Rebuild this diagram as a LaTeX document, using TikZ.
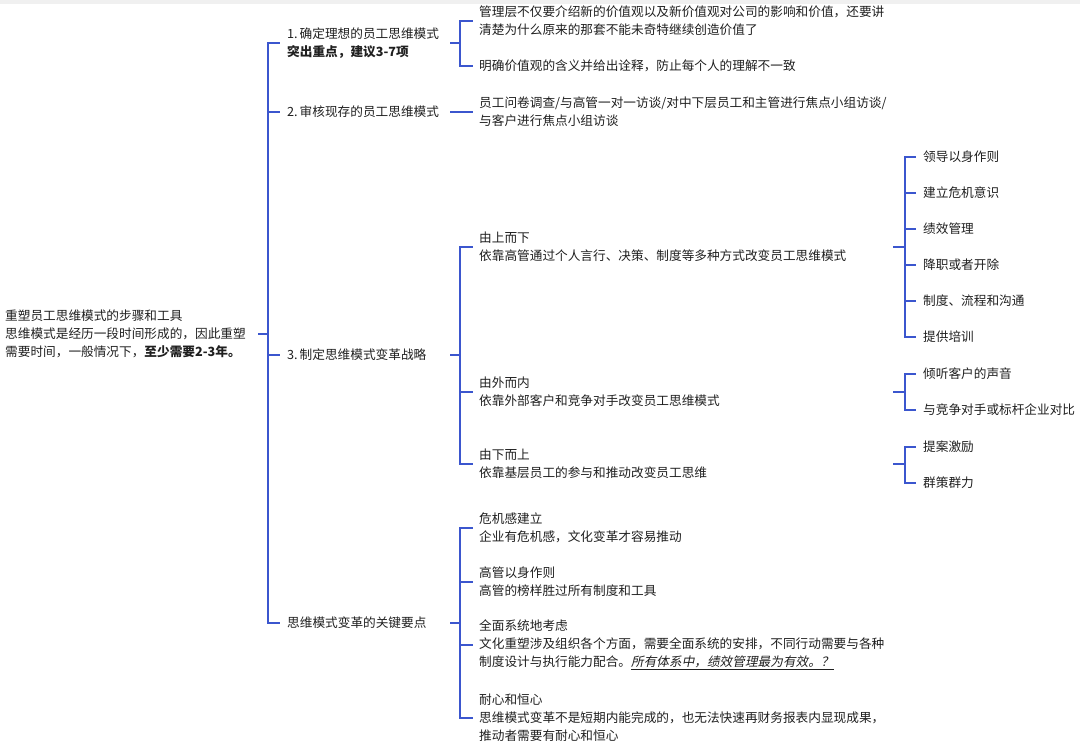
\documentclass[tikz,border=0pt]{standalone}
\usepackage{fontspec}
\setmainfont{Noto Sans CJK SC}[AutoFakeSlant=0.2]
\usepackage{tikz}
\usetikzlibrary{positioning}
\definecolor{linkblue}{RGB}{59,86,206}
\tikzset{
  link/.style={draw=linkblue, line width=1.8pt},
  topic/.style={anchor=west, inner xsep=7pt, inner ysep=0pt, align=left, text=black!88, font=\fontsize{12.66}{18}\selectfont\frenchspacing},
  branch/.style={topic, text width=156pt},
  leaf/.style={topic, inner xsep=6pt}
}

\begin{document}
\begin{tikzpicture}[x=1pt, y=-1pt]
    \useasboundingbox (0,0) rectangle (1080,747);
    \fill[black!6] (0,0) rectangle (1080,4);

    % 1. Tema central
    \node[topic, inner xsep=0pt, text width=253pt] (root) at (5,334) {重塑员工思维模式的步骤和工具\\思维模式是经历一段时间形成的，因此重塑\\需要时间，一般情况下，\textbf{至少需要2-3年。}};
    \coordinate (s0) at (268,334);

    % 2. Ramas principales
    \node[branch] (b1) at (280,43) {\mbox{1.\hspace{2pt}确定理想的员工思维模式}\\\textbf{突出重点，建议3-7项}};
    \node[branch] (b2) at (280,112) {\mbox{2.\hspace{2pt}审核现存的员工思维模式}};
    \node[branch] (b3) at (280,355) {\mbox{3.\hspace{2pt}制定思维模式变革战略}};
    \node[branch] (b4) at (280,623) {思维模式变革的关键要点};

    \draw[link] (root.east) -- (s0);
    \foreach \b in {b1,b2,b3,b4} {
        \draw[link] (s0) |- (\b.west);
    }

    % 3. Hijos de la rama 1
    \coordinate (j1) at (460,43);
    \node[leaf] (c11) at (473,21) {管理层不仅要介绍新的价值观以及新价值观对公司的影响和价值，还要讲\\清楚为什么原来的那套不能未奇特继续创造价值了};
    \node[leaf] (c12) at (473,66) {明确价值观的含义并给出诠释，防止每个人的理解不一致};
    \draw[link] (b1.east) -- (j1);
    \draw[link] (j1) |- (c11.west);
    \draw[link] (j1) |- (c12.west);

    % 4. Hijo de la rama 2
    \node[leaf] (c21) at (473,112) {员工问卷调查/与高管一对一访谈/对中下层员工和主管进行焦点小组访谈/\\与客户进行焦点小组访谈};
    \draw[link] (b2.east) -- (c21.west);

    % 5. Hijos de la rama 3
    \coordinate (j3) at (460,355);
    \node[leaf, text width=408pt] (c31) at (473,247) {由上而下\\依靠高管通过个人言行、决策、制度等多种方式改变员工思维模式};
    \node[leaf, text width=408pt] (c32) at (473,392) {由外而内\\依靠外部客户和竞争对手改变员工思维模式};
    \node[leaf, text width=408pt] (c33) at (473,464) {由下而上\\依靠基层员工的参与和推动改变员工思维};
    \draw[link] (b3.east) -- (j3);
    \foreach \c in {c31,c32,c33} {
        \draw[link] (j3) |- (\c.west);
    }

    % Nietos
    \coordinate (j31) at (905,247);
    \draw[link] (c31.east) -- (j31);
    \foreach \i/\txt in {0/领导以身作则, 1/建立危机意识, 2/绩效管理, 3/降职或者开除, 4/制度、流程和沟通, 5/提供培训} {
        \node[topic] (g1\i) at (916,{157+\i*36}) {\txt};
        \draw[link] (j31) |- (g1\i.west);
    }

    \coordinate (j32) at (905,392);
    \draw[link] (c32.east) -- (j32);
    \foreach \i/\txt in {0/倾听客户的声音, 1/与竞争对手或标杆企业对比} {
        \node[topic] (g2\i) at (916,{374+\i*36}) {\txt};
        \draw[link] (j32) |- (g2\i.west);
    }

    \coordinate (j33) at (905,464);
    \draw[link] (c33.east) -- (j33);
    \foreach \i/\txt in {0/提案激励, 1/群策群力} {
        \node[topic] (g3\i) at (916,{447+\i*36}) {\txt};
        \draw[link] (j33) |- (g3\i.west);
    }

    % 6. Hijos de la rama 4
    \coordinate (j4) at (460,623);
    \node[leaf] (c41) at (473,528) {危机感建立\\企业有危机感，文化变革才容易推动};
    \node[leaf] (c42) at (473,582) {高管以身作则\\高管的榜样胜过所有制度和工具};
    \node[leaf] (c43) at (473,645) {全面系统地考虑\\文化重塑涉及组织各个方面，需要全面系统的安排，不同行动需要与各种\\制度设计与执行能力配合。\underline{\itshape 所有体系中，绩效管理最为有效。？}};
    \node[leaf] (c44) at (473,718) {耐心和恒心\\思维模式变革不是短期内能完成的，也无法快速再财务报表内显现成果，\\推动者需要有耐心和恒心};
    \draw[link] (b4.east) -- (j4);
    \foreach \c in {c41,c42,c43,c44} {
        \draw[link] (j4) |- (\c.west);
    }

\end{tikzpicture}
\end{document}
